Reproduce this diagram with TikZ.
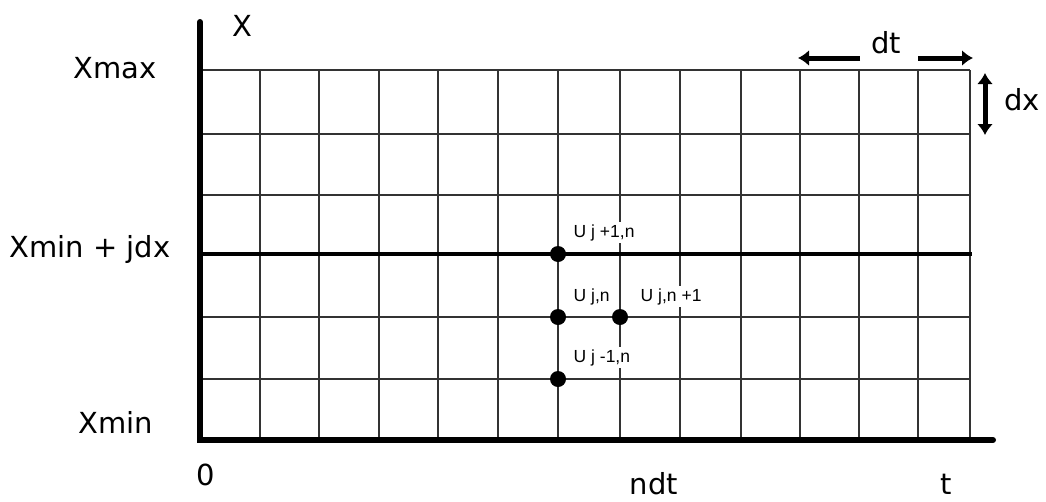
\documentclass[tikz,border=0pt]{standalone}
\usepackage{fontspec}
\setmainfont{DejaVu Sans}
\newfontfamily\lblfont{Liberation Sans}
\usetikzlibrary{arrows.meta}
\begin{document}
\begin{tikzpicture}[x=1pt,y=-1pt,
  gridline/.style={line width=1.3pt, black!80},
  axisline/.style={line width=6pt, line cap=round},
  midline/.style={line width=3.5pt},
  big/.style={font=\fontsize{29}{34}\selectfont, inner sep=0pt, anchor=base},
  small/.style={font=\lblfont\fontsize{17.5}{20}\selectfont, fill=white, inner sep=2.5pt, anchor=base west},
  dot/.style={circle, fill=black, inner sep=0pt, minimum size=16pt},
  onehead/.style={line width=5pt, -{Latex[length=11pt,width=16pt]}},
  twohead/.style={line width=5pt, {Latex[length=11pt,width=16pt]}-{Latex[length=11pt,width=16pt]}}
]
\useasboundingbox (0,0) rectangle (1046,501);
\fill[white] (0,0) rectangle (1046,501);

% grid
\foreach \gx in {260,319,379,438,498,558,620,680,741,800,859,918,970}
  \draw[gridline] (\gx,70) -- (\gx,440);
\foreach \gy in {70,134,195,317,379}
  \draw[gridline] (200,\gy) -- (970,\gy);

% highlighted row
\draw[midline] (200,254) -- (972,254);

% axes
\coordinate (origin) at (200,440);
\coordinate (ytop) at (200,22);
\coordinate (xend) at (993,440);
\draw[axisline] (ytop) -- (origin) -- (xend);

% axis labels
\node[big] (lX) at (242,36) {X};
\node[big] (lXmax) at (115,78) {Xmax};
\node[big] (lXmid) at (90,257) {Xmin + jdx};
\node[big] (lXmin) at (116,433) {Xmin};
\node[big] (l0) at (206,485) {0};
\node[big] (lndt) at (654,494) {ndt};
\node[big] (lt) at (946,494) {t};

% dt and dx markers
\node[big] (ldt) at (886,53) {dt};
\coordinate (dtL1) at (860,58);
\coordinate (dtL2) at (798,58);
\coordinate (dtR1) at (918,58);
\coordinate (dtR2) at (973,58);
\draw[onehead] (dtL1) -- (dtL2);
\draw[onehead] (dtR1) -- (dtR2);
\node[big] (ldx) at (1022,110) {dx};
\coordinate (dxT) at (985,73);
\coordinate (dxB) at (985,135);
\draw[twohead] (dxT) -- (dxB);

% points
\node[dot] (pup) at (558,254) {};
\node[dot] (pmid) at (558,317) {};
\node[dot] (pnext) at (620,317) {};
\node[dot] (pdown) at (558,379) {};

% point labels
\node[small] (lup) at (571,237) {U j +1,n};
\node[small] (lmid) at (571,301) {U j,n};
\node[small] (lnext) at (638,301) {U j,n +1};
\node[small] (ldown) at (571,362) {U j -1,n};
\end{tikzpicture}
\end{document}
